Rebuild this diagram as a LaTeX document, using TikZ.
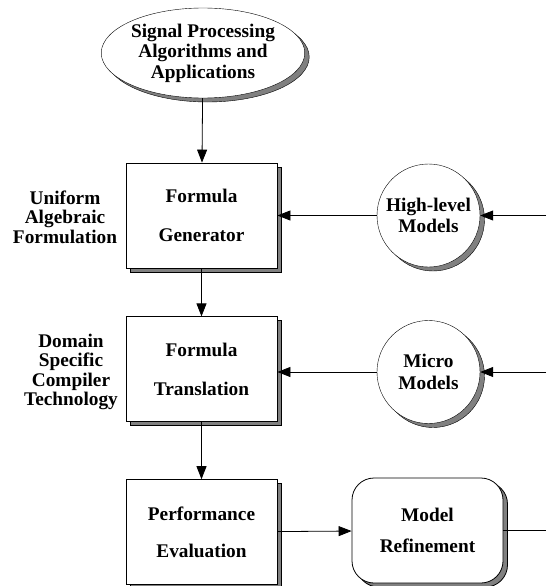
\documentclass[tikz,border=0pt]{standalone}
\usepackage{fontspec}
\setmainfont{Liberation Serif}
\usetikzlibrary{positioning,shapes.geometric,shadows,arrows.meta}

\tikzset{
  shade/.style={drop shadow={shadow xshift=4.5pt,shadow yshift=-4pt,fill=black!50,draw=black,opacity=1}},
  lbl/.style={font=\fontsize{19.3}{19.5}\selectfont\bfseries, align=center},
  procbox/.style={lbl, shade, draw, fill=white, thick, minimum width=151pt, minimum height=105pt, inner sep=0pt},
  model/.style={lbl, shade, draw, fill=white, circle, minimum size=103pt, inner sep=0pt},
  apps/.style={lbl, shade, draw, fill=white, ellipse, minimum width=184pt, minimum height=90pt, inner sep=0pt},
  refbox/.style={procbox, rounded corners=22pt},
  flow/.style={thick, -{Triangle[length=13pt,width=10pt]}}
}

\begin{document}
\begin{tikzpicture}
  \useasboundingbox (0,0) rectangle (546pt,-586pt);
  % left column
  \node[apps] (sig) at (203pt,-53pt) {Signal Processing\\[1pt]Algorithms and\\[1pt]Applications};
  \node[procbox] (gen) at (201.5pt,-215.5pt) {Formula\\[20pt]Generator};
  \node[procbox, below=48pt of gen] (trans) {Formula\\[20pt]Translation};
  \node[procbox, below=57pt of trans] (eval) {Performance\\[18pt]Evaluation};
  % labels
  \node[lbl] (ualg) at (65pt,-217pt) {Uniform\\Algebraic\\Formulation};
  \node[lbl] (dom) at (71pt,-372pt) {Domain\\Specific\\Compiler\\Technology};
  % right column
  \node[model] (hl) at (428.5pt,-215.5pt) {High-level\\[2pt]Models};
  \node[model] (micro) at (428.5pt,-372pt) {Micro\\[3pt]Models};
  \node[refbox] (ref) at (427.5pt,-530.5pt) {Model\\[12pt]Refinement};
  \coordinate (hlin) at (546pt,-215.5pt);
  \coordinate (microin) at (546pt,-372pt);
  \coordinate (refout) at (546pt,-530.5pt);
  % connectors
  \draw[flow] (sig) -- (gen);
  \draw[flow] (gen) -- (trans);
  \draw[flow] (trans) -- (eval);
  \draw[flow] (hl) -- (gen);
  \draw[flow] (hlin) -- (hl);
  \draw[flow] (micro) -- (micro -| trans.east);
  \draw[flow] (microin) -- (micro);
  \draw[flow] (eval) -- (ref);
  \draw[thick] (ref) -- (refout);
\end{tikzpicture}
\end{document}
